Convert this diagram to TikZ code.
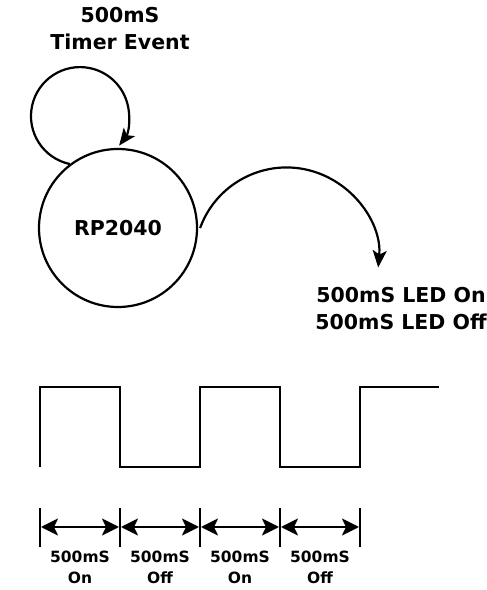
\documentclass[tikz,border=0pt]{standalone}
\usepackage{fontspec}
\setmainfont{DejaVu Sans}
\usetikzlibrary{arrows.meta}
\begin{document}
\begin{tikzpicture}[x=1pt,y=1pt,line width=2.2pt,
  curvetip/.style={-{Stealth[length=17pt,width=14pt,inset=4pt]}},
  dimtip/.style={{Stealth[length=17pt,width=17pt,inset=4pt]}-{Stealth[length=17pt,width=17pt,inset=4pt]}},
  bigtxt/.style={font=\fontsize{20.5}{27}\selectfont\bfseries,align=center,inner sep=0pt},
  smalltxt/.style={font=\fontsize{15.5}{21}\selectfont\bfseries,align=center,inner sep=0pt},
  wave/.style={line width=2.5pt}]
\useasboundingbox (0,0) rectangle (487,590);
% nodes
\node[draw,circle,minimum size=158pt,inner sep=0pt,font=\fontsize{20.5}{24}\selectfont\bfseries] (rp) at (118,362) {RP2040};
\node[bigtxt] (timer) at (120,561) {500mS\\Timer Event};
\node[bigtxt] (led) at (401,281) {500mS LED On\\500mS LED Off};
% self loop (timer event)
\draw[curvetip] (rp.127) arc[start angle=258,end angle=-37,radius=49pt];
% arc to LED
\coordinate (arcstart) at (rp.east);
\draw[curvetip] ([xshift=2pt]arcstart) arc[start angle=160,end angle=-5,radius=92pt];
% square wave
\coordinate (w0) at (40,123);
\coordinate (w1) at (40,203);
\coordinate (w2) at (120,203);
\coordinate (w3) at (120,123);
\coordinate (w4) at (200,123);
\coordinate (w5) at (200,203);
\coordinate (w6) at (280,203);
\coordinate (w7) at (280,123);
\coordinate (w8) at (360,123);
\coordinate (w9) at (360,203);
\coordinate (w10) at (439,203);
\draw[wave,line join=miter] (w0) -- (w1) -- (w2) -- (w3) -- (w4) -- (w5) -- (w6) -- (w7) -- (w8) -- (w9) -- (w10);
% ticks
\foreach \i/\x in {0/40,1/120,2/200,3/280,4/360}{
  \coordinate (tt\i) at (\x,82);
  \coordinate (tb\i) at (\x,43);
  \coordinate (ta\i) at (\x,63);
  \draw[wave] (tt\i) -- (tb\i);
}
\foreach \a/\b in {0/1,1/2,2/3,3/4}{
  \draw[dimtip] ([xshift=1pt]ta\a) -- ([xshift=-1pt]ta\b);
}
\node[smalltxt] (l1) at (80,23) {500mS\\On};
\node[smalltxt] (l2) at (160,23) {500mS\\Off};
\node[smalltxt] (l3) at (240,23) {500mS\\On};
\node[smalltxt] (l4) at (320,23) {500mS\\Off};
\end{tikzpicture}
\end{document}
